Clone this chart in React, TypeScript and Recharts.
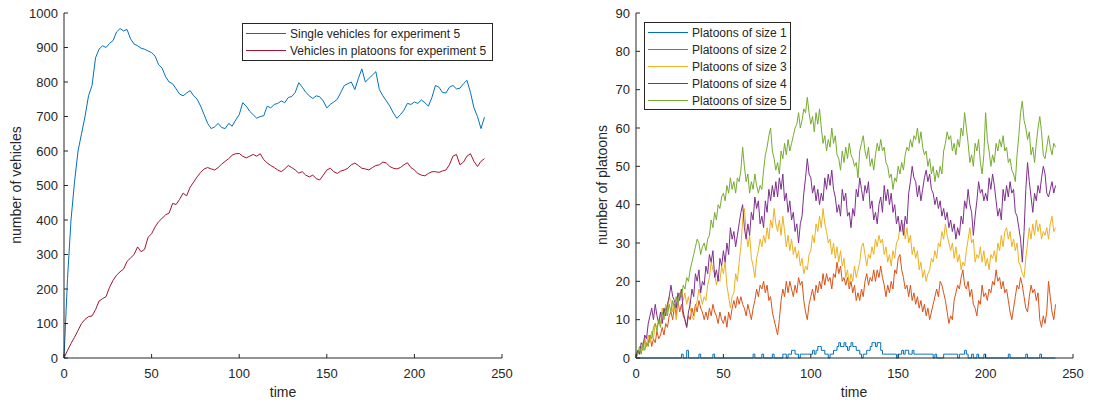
import { LineChart, Line, XAxis, YAxis, Legend, Label } from "recharts"

// left panel: sampled every 2 time units (t = 0..240)
const LEFT_STEP = 2

const singleVehicles = [
  0, 230, 400, 510, 600, 650, 700, 760, 790, 870,
  895, 905, 900, 912, 920, 945, 955, 948, 952, 925,
  910, 905, 898, 895, 890, 885, 875, 850, 840, 815,
  800, 795, 780, 765, 760, 768, 775, 760, 750, 730,
  705, 680, 665, 670, 680, 668, 665, 680, 672, 690,
  705, 740, 730, 715, 705, 695, 700, 702, 730, 725,
  735, 738, 745, 740, 755, 758, 770, 798, 785, 770,
  760, 752, 760, 757, 745, 725, 735, 742, 750, 770,
  790, 795, 800, 778, 810, 838, 800, 810, 820, 830,
  778, 760, 745, 730, 710, 695, 705, 718, 738, 735,
  742, 738, 748, 740, 730, 755, 790, 785, 770, 768,
  785, 790, 780, 782, 795, 805, 770, 725, 700, 665,
  698,
]

const platoonVehicles = [
  0, 22, 42, 60, 80, 100, 112, 120, 122, 140,
  165, 172, 178, 205, 225, 240, 250, 258, 280, 290,
  300, 322, 308, 315, 350, 360, 380, 395, 405, 415,
  420, 448, 445, 460, 478, 470, 495, 510, 525, 538,
  548, 552, 548, 545, 552, 562, 570, 578, 588, 592,
  593, 585, 580, 585, 590, 585, 592, 575, 565, 558,
  552, 545, 540, 548, 558, 552, 545, 536, 540, 530,
  525, 530, 520, 516, 530, 545, 550, 540, 535, 542,
  545, 550, 560, 565, 558, 550, 548, 545, 552, 558,
  560, 568, 565, 555, 550, 548, 552, 560, 566, 552,
  545, 535, 530, 528, 535, 540, 540, 538, 542, 545,
  560, 585, 590, 560, 568, 585, 592, 570, 555, 570,
  578,
]

// right panel: one value per time unit (t = 0..240)
const platoonSize1 = [
  0, 0, 0, 0, 0, 0, 0, 0, 0, 0, 0, 0, 0, 0, 0, 0, 0, 0, 0, 0,
  0, 0, 0, 0, 0, 0, 1, 0, 0, 2, 0, 0, 0, 0, 0, 0, 1, 0, 0, 0,
  0, 0, 0, 0, 1, 0, 0, 0, 0, 0, 0, 0, 0, 0, 0, 0, 0, 0, 0, 0,
  0, 0, 0, 0, 0, 0, 0, 1, 0, 0, 0, 0, 1, 0, 0, 0, 0, 0, 1, 0,
  0, 0, 0, 0, 1, 1, 0, 1, 1, 2, 2, 1, 1, 0, 1, 1, 1, 1, 1, 1,
  1, 2, 1, 2, 3, 3, 2, 2, 1, 1, 0, 1, 1, 2, 2, 3, 4, 3, 3, 4,
  3, 2, 3, 4, 3, 3, 2, 2, 1, 0, 1, 1, 2, 2, 3, 4, 4, 3, 4, 4,
  2, 1, 1, 1, 1, 1, 1, 1, 1, 0, 1, 1, 2, 1, 2, 2, 1, 1, 2, 1,
  1, 1, 1, 1, 1, 1, 1, 1, 1, 1, 0, 1, 0, 0, 0, 0, 1, 1, 1, 1,
  1, 1, 1, 1, 0, 1, 1, 1, 2, 1, 0, 0, 1, 0, 0, 1, 0, 0, 0, 1,
  0, 0, 0, 0, 0, 0, 0, 0, 0, 0, 0, 0, 0, 1, 0, 0, 0, 0, 0, 0,
  0, 0, 0, 1, 0, 0, 0, 0, 0, 0, 0, 1, 0, 0, 0, 0, 0, 0, 0, 0,
  0,
]

const platoonSize2 = [
  0, 2, 1, 3, 2, 5, 3, 4, 6, 3, 5, 4, 7, 5, 6, 8, 6, 9, 8, 11,
  12, 10, 14, 11, 15, 12, 14, 11, 10, 8, 11, 10, 13, 11, 14, 12, 15, 13, 12, 10,
  12, 10, 13, 11, 14, 12, 11, 9, 12, 10, 9, 11, 8, 12, 10, 13, 15, 13, 16, 14,
  16, 14, 13, 11, 14, 12, 10, 13, 15, 18, 16, 19, 18, 20, 17, 19, 15, 16, 12, 10,
  8, 6, 10, 15, 18, 16, 20, 17, 20, 18, 16, 19, 17, 21, 19, 20, 15, 12, 10, 14,
  16, 18, 15, 19, 17, 20, 18, 22, 19, 22, 20, 21, 18, 22, 21, 25, 22, 24, 20, 21,
  19, 21, 18, 20, 17, 19, 15, 17, 15, 18, 16, 20, 22, 19, 21, 20, 23, 20, 23, 21,
  24, 21, 19, 16, 19, 17, 20, 18, 23, 22, 26, 27, 23, 21, 18, 19, 16, 19, 15, 17,
  14, 16, 13, 15, 12, 14, 11, 13, 10, 12, 14, 16, 18, 16, 20, 19, 17, 15, 12, 9,
  11, 10, 15, 17, 19, 18, 21, 23, 19, 18, 20, 16, 18, 14, 13, 11, 15, 14, 19, 16,
  17, 15, 18, 17, 20, 19, 23, 20, 21, 18, 20, 17, 18, 15, 12, 10, 13, 16, 19, 18,
  21, 19, 16, 13, 12, 16, 19, 17, 18, 15, 17, 10, 8, 11, 9, 12, 20, 16, 12, 10,
  14,
]

const platoonSize3 = [
  0, 2, 1, 3, 2, 5, 3, 6, 4, 7, 5, 9, 8, 10, 9, 13, 11, 14, 12, 16,
  15, 12, 13, 10, 14, 16, 18, 15, 17, 14, 16, 13, 11, 10, 13, 15, 18, 16, 14, 16,
  15, 19, 21, 25, 23, 22, 19, 21, 20, 24, 22, 25, 19, 16, 13, 16, 17, 22, 20, 25,
  29, 36, 39, 33, 29, 32, 26, 24, 21, 26, 28, 31, 29, 32, 30, 34, 31, 36, 34, 39,
  35, 33, 36, 32, 37, 33, 29, 32, 28, 31, 27, 29, 26, 28, 24, 26, 22, 24, 23, 27,
  28, 32, 30, 35, 33, 37, 34, 39, 35, 33, 30, 31, 27, 30, 26, 29, 25, 28, 24, 26,
  21, 23, 19, 22, 20, 24, 21, 23, 25, 29, 30, 27, 24, 27, 26, 29, 27, 31, 29, 32,
  30, 31, 27, 29, 25, 27, 24, 28, 26, 30, 31, 34, 33, 35, 31, 34, 30, 32, 27, 29,
  26, 28, 23, 25, 21, 23, 20, 22, 23, 26, 25, 28, 26, 30, 29, 33, 31, 35, 32, 30,
  28, 30, 26, 29, 25, 27, 23, 25, 24, 28, 31, 34, 30, 31, 25, 27, 26, 29, 25, 28,
  24, 26, 23, 27, 26, 28, 25, 30, 28, 32, 29, 33, 34, 31, 33, 29, 31, 28, 30, 25,
  24, 22, 21, 26, 30, 34, 31, 35, 32, 36, 33, 35, 31, 33, 32, 34, 31, 35, 37, 33,
  34,
]

const platoonSize4 = [
  0, 2, 1, 4, 3, 6, 5, 9, 11, 13, 10, 14, 11, 9, 12, 9, 13, 11, 14, 16,
  19, 16, 15, 13, 17, 15, 18, 12, 10, 8, 12, 14, 18, 16, 22, 20, 23, 17, 20, 19,
  24, 22, 27, 25, 28, 21, 23, 20, 26, 24, 28, 25, 30, 27, 34, 31, 33, 29, 32, 35,
  38, 40, 34, 31, 35, 32, 38, 36, 42, 39, 41, 35, 37, 34, 41, 38, 44, 41, 45, 42,
  46, 42, 47, 44, 48, 41, 43, 38, 41, 36, 38, 33, 35, 30, 35, 37, 43, 47, 52, 48,
  47, 43, 45, 41, 44, 40, 43, 41, 47, 44, 48, 45, 49, 44, 42, 38, 40, 37, 44, 41,
  43, 37, 38, 34, 39, 37, 44, 42, 47, 44, 41, 45, 43, 46, 39, 41, 36, 38, 35, 40,
  42, 38, 45, 41, 44, 40, 43, 38, 40, 35, 37, 33, 36, 32, 37, 35, 43, 46, 50, 47,
  46, 42, 45, 41, 44, 47, 49, 46, 48, 44, 43, 40, 42, 39, 41, 37, 39, 36, 38, 34,
  36, 33, 35, 31, 34, 32, 37, 35, 41, 39, 44, 40, 38, 32, 37, 41, 46, 43, 44, 41,
  43, 41, 47, 44, 48, 45, 41, 37, 39, 36, 44, 41, 45, 42, 46, 43, 44, 38, 37, 34,
  31, 25, 33, 44, 51, 46, 42, 38, 43, 41, 45, 43, 47, 50, 48, 43, 42, 44, 46, 43,
  45,
]

const platoonSize5 = [
  0, 1, 3, 1, 4, 2, 4, 3, 6, 5, 8, 9, 7, 10, 8, 12, 10, 13, 11, 14,
  12, 15, 13, 16, 14, 17, 16, 19, 18, 21, 20, 23, 25, 27, 29, 31, 30, 27, 29, 30,
  28, 31, 32, 36, 34, 38, 36, 40, 39, 42, 43, 41, 45, 43, 47, 44, 46, 43, 47, 46,
  49, 55, 50, 46, 48, 43, 46, 44, 48, 45, 43, 45, 44, 49, 53, 55, 58, 60, 54, 52,
  49, 51, 48, 54, 52, 56, 53, 57, 54, 56, 58, 60, 61, 64, 60, 62, 65, 64, 68, 64,
  61, 63, 59, 64, 61, 65, 60, 56, 58, 54, 57, 55, 60, 56, 58, 53, 52, 49, 54, 51,
  55, 52, 56, 53, 52, 50, 51, 47, 54, 56, 58, 54, 52, 55, 50, 52, 49, 53, 56, 54,
  57, 54, 55, 51, 50, 47, 48, 44, 47, 46, 50, 48, 51, 49, 53, 55, 54, 57, 55, 58,
  57, 60, 56, 59, 55, 53, 54, 50, 52, 48, 50, 46, 49, 47, 50, 48, 54, 56, 59, 57,
  58, 54, 56, 53, 57, 55, 60, 58, 64, 60, 56, 51, 53, 50, 56, 54, 57, 51, 48, 53,
  64, 57, 54, 50, 53, 51, 56, 54, 57, 55, 58, 54, 55, 51, 52, 49, 48, 46, 53, 58,
  64, 67, 62, 60, 57, 59, 53, 55, 51, 56, 60, 63, 59, 53, 52, 55, 58, 55, 53, 56,
  55,
]

const timeTicks = [0, 50, 100, 150, 200, 250]
const vehicleTicks = [0, 100, 200, 300, 400, 500, 600, 700, 800, 900, 1000]
const platoonTicks = [0, 10, 20, 30, 40, 50, 60, 70, 80, 90]

const leftData = singleVehicles.map((v, i) => ({
  t: i * LEFT_STEP,
  single: v,
  platoon: platoonVehicles[i],
}))

const rightData = platoonSize1.map((v, i) => ({
  t: i,
  s1: v,
  s2: platoonSize2[i],
  s3: platoonSize3[i],
  s4: platoonSize4[i],
  s5: platoonSize5[i],
}))

const INK = "#262626"
const FONT = '"Liberation Sans", Arial, Helvetica, sans-serif'

// series colours (MATLAB default order), looked up by dataKey
const COLORS: Record<string, string> = {
  single: "#0072BD",
  platoon: "#A2142F",
  s1: "#0072BD",
  s2: "#D95319",
  s3: "#EDB120",
  s4: "#7E2F8E",
  s5: "#77AC30",
}

function BoxLegend(props: any) {
  const { payload } = props
  return (
    <div
      style={{
        boxSizing: "border-box",
        width: "100%",
        height: "100%",
        border: `1px solid ${INK}`,
        background: "#fff",
        padding: "1px 3px",
        fontFamily: FONT,
        fontSize: 12,
        color: INK,
      }}
    >
      {(payload || []).map((p: any) => (
        <div
          key={p.value}
          style={{ display: "flex", alignItems: "center", height: 17, whiteSpace: "nowrap" }}
        >
          <span
            style={{
              display: "block",
              flex: "none",
              width: 40,
              height: 0,
              borderTop: `1px solid ${COLORS[p.dataKey] || p.color}`,
            }}
          />
          <span style={{ marginLeft: 4 }}>{p.value}</span>
        </div>
      ))}
    </div>
  )
}

function yTitle(text: string, x: number, y: number) {
  return () => (
    <text
      x={x}
      y={y}
      transform={`rotate(-90 ${x} ${y})`}
      textAnchor="middle"
      fill={INK}
      fontSize={14}
      fontFamily={FONT}
    >
      {text}
    </text>
  )
}

function xTitle(x: number, y: number) {
  return () => (
    <text x={x} y={y} textAnchor="middle" fill={INK} fontSize={14} fontFamily={FONT}>
      time
    </text>
  )
}

const tickStyle = { fill: INK, fontSize: 13, fontFamily: FONT }

export default function App() {
  return (
    <div
      style={{
        position: "absolute",
        left: 0,
        top: 0,
        width: 1093,
        height: 402,
        background: "#fff",
        fontFamily: FONT,
      }}
    >
      <div style={{ position: "absolute", left: 0, top: 0 }}>
        <LineChart
          width={546}
          height={402}
          data={leftData}
          margin={{ top: 13, right: 44, left: 14, bottom: 14 }}
        >
          <XAxis
            dataKey="t"
            type="number"
            domain={[0, 250]}
            ticks={timeTicks}
            interval={0}
            height={30}
            tickSize={-4}
            tickMargin={15}
            axisLine={{ stroke: INK }}
            tickLine={{ stroke: INK }}
            tick={tickStyle}
          >
            <Label content={xTitle(283, 397)} />
          </XAxis>
          <XAxis
            xAxisId="top"
            orientation="top"
            dataKey="t"
            type="number"
            domain={[0, 250]}
            ticks={timeTicks}
            height={0}
            tickSize={-4}
            tick={false}
            axisLine={{ stroke: INK }}
            tickLine={{ stroke: INK }}
          />
          <YAxis
            type="number"
            domain={[0, 1000]}
            ticks={vehicleTicks}
            interval={0}
            width={50}
            tickSize={-4}
            tickMargin={10}
            axisLine={{ stroke: INK }}
            tickLine={{ stroke: INK }}
            tick={tickStyle}
          >
            <Label content={yTitle("number of vehicles", 21, 185)} />
          </YAxis>
          <YAxis
            yAxisId="right"
            orientation="right"
            type="number"
            domain={[0, 1000]}
            ticks={vehicleTicks}
            width={0}
            tickSize={-4}
            tick={false}
            axisLine={{ stroke: INK }}
            tickLine={{ stroke: INK }}
          />
          <Legend
            layout="vertical"
            align="center"
            verticalAlign="middle"
            content={BoxLegend}
            wrapperStyle={{ left: 242, top: 23, width: 251, height: 38 }}
          />
          <Line
            dataKey="single"
            name="Single vehicles for experiment 5"
            stroke={COLORS.single}
            strokeWidth={1}
            dot={false}
            type="linear"
            isAnimationActive={false}
          />
          <Line
            dataKey="platoon"
            name="Vehicles in platoons for experiment 5"
            stroke={COLORS.platoon}
            strokeWidth={1}
            dot={false}
            type="linear"
            isAnimationActive={false}
          />
        </LineChart>
      </div>

      <div style={{ position: "absolute", left: 546, top: 0 }}>
        <LineChart
          width={547}
          height={402}
          data={rightData}
          margin={{ top: 13, right: 20, left: 40, bottom: 14 }}
        >
          <XAxis
            dataKey="t"
            type="number"
            domain={[0, 250]}
            ticks={timeTicks}
            interval={0}
            height={30}
            tickSize={-4}
            tickMargin={15}
            axisLine={{ stroke: INK }}
            tickLine={{ stroke: INK }}
            tick={tickStyle}
          >
            <Label content={xTitle(308, 397)} />
          </XAxis>
          <XAxis
            xAxisId="top"
            orientation="top"
            dataKey="t"
            type="number"
            domain={[0, 250]}
            ticks={timeTicks}
            height={0}
            tickSize={-4}
            tick={false}
            axisLine={{ stroke: INK }}
            tickLine={{ stroke: INK }}
          />
          <YAxis
            type="number"
            domain={[0, 90]}
            ticks={platoonTicks}
            interval={0}
            width={50}
            tickSize={-4}
            tickMargin={10}
            axisLine={{ stroke: INK }}
            tickLine={{ stroke: INK }}
            tick={tickStyle}
          >
            <Label content={yTitle("number of platoons", 61, 185)} />
          </YAxis>
          <YAxis
            yAxisId="right"
            orientation="right"
            type="number"
            domain={[0, 90]}
            ticks={platoonTicks}
            width={0}
            tickSize={-4}
            tick={false}
            axisLine={{ stroke: INK }}
            tickLine={{ stroke: INK }}
          />
          <Legend
            layout="vertical"
            align="center"
            verticalAlign="middle"
            content={BoxLegend}
            wrapperStyle={{ left: 98, top: 22, width: 147, height: 88 }}
          />
          <Line dataKey="s1" name="Platoons of size 1" stroke={COLORS.s1} strokeWidth={1} dot={false} type="stepAfter" isAnimationActive={false} />
          <Line dataKey="s2" name="Platoons of size 2" stroke={COLORS.s2} strokeWidth={1} dot={false} type="linear" isAnimationActive={false} />
          <Line dataKey="s3" name="Platoons of size 3" stroke={COLORS.s3} strokeWidth={1} dot={false} type="linear" isAnimationActive={false} />
          <Line dataKey="s4" name="Platoons of size 4" stroke={COLORS.s4} strokeWidth={1} dot={false} type="linear" isAnimationActive={false} />
          <Line dataKey="s5" name="Platoons of size 5" stroke={COLORS.s5} strokeWidth={1} dot={false} type="linear" isAnimationActive={false} />
        </LineChart>
      </div>
    </div>
  )
}
